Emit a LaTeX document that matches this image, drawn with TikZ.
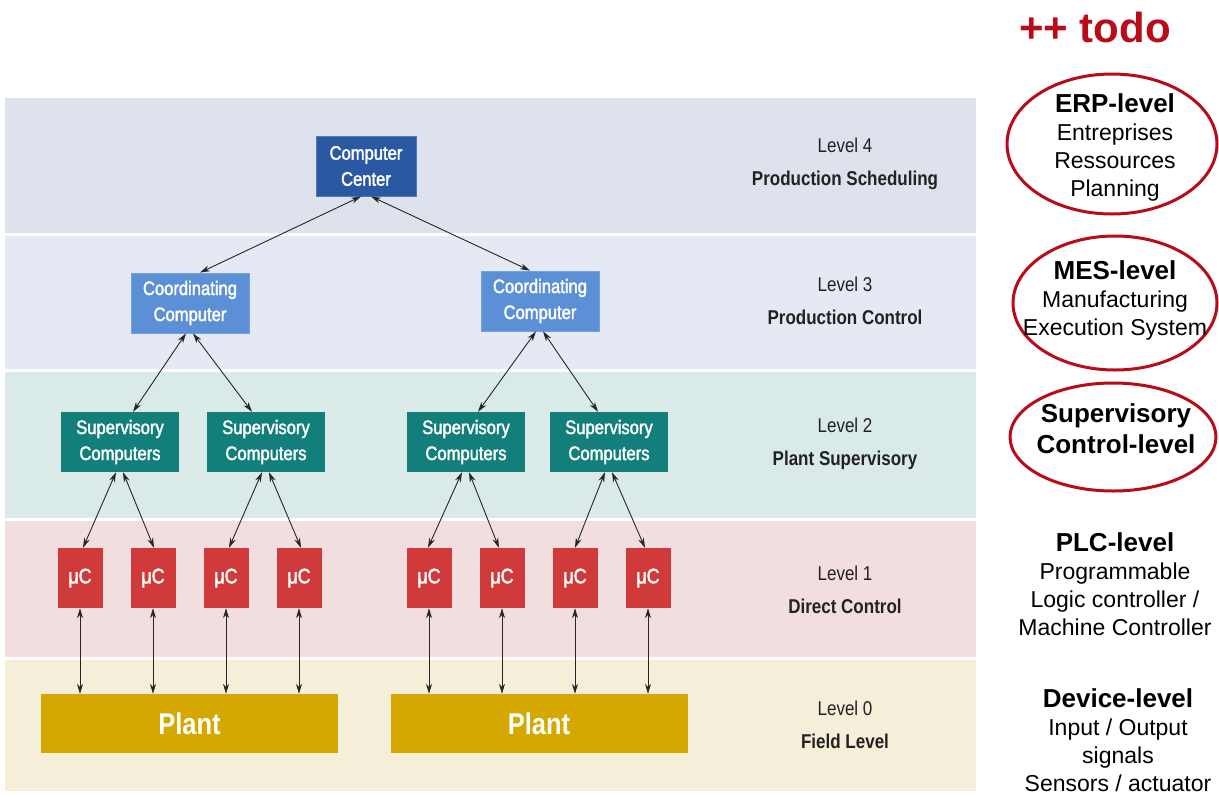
\documentclass[tikz,border=0pt]{standalone}
\usepackage{fontspec}
\setmainfont{Liberation Sans}
\newfontfamily\narrowfont[FakeStretch=0.85]{Liberation Sans}
\newfontfamily\boxfont[FakeStretch=0.85,FakeBold=2]{Liberation Sans}
\usetikzlibrary{arrows.meta}
\definecolor{bandA}{RGB}{221,226,236}
\definecolor{bandB}{RGB}{228,233,243}
\definecolor{bandC}{RGB}{217,234,232}
\definecolor{bandD}{RGB}{243,222,223}
\definecolor{bandE}{RGB}{245,239,218}
\definecolor{ccblue}{RGB}{42,88,163}
\definecolor{coblue}{RGB}{91,143,214}
\definecolor{supteal}{RGB}{19,127,122}
\definecolor{mcred}{RGB}{209,58,58}
\definecolor{plantgold}{RGB}{212,168,0}
\definecolor{todored}{RGB}{185,12,24}
\definecolor{labgray}{RGB}{34,34,34}
\tikzset{
  box/.style={inner sep=0pt, text=white, align=center,
    font=\boxfont\fontsize{19.5}{26}\selectfont},
  ccbox/.style={box, fill=ccblue, draw=ccblue!80!white, line width=0.8pt,
    minimum width=100pt, minimum height=60pt},
  cobox/.style={box, fill=coblue, draw=coblue!85!white, line width=0.8pt,
    minimum width=118pt, minimum height=60pt},
  supbox/.style={box, fill=supteal, minimum width=118pt, minimum height=60pt},
  mcbox/.style={box, fill=mcred, minimum width=45pt, minimum height=60pt,
    font=\boxfont\fontsize{21}{24}\selectfont},
  plantbox/.style={box, fill=plantgold, minimum width=297pt, minimum height=59pt,
    font=\narrowfont\bfseries\fontsize{30}{34}\selectfont},
  levlab/.style={align=center, text=labgray, inner sep=0pt,
    font=\narrowfont\fontsize{20}{33}\selectfont},
  sidetext/.style={align=center, text=black, inner sep=0pt,
    font=\fontsize{23}{28}\selectfont},
  link/.style={{Stealth[length=10pt,width=6pt]}-{Stealth[length=10pt,width=6pt]},
    line width=0.9pt, draw=black!85},
  ring/.style={draw=todored, line width=3pt}
}
\begin{document}
\begin{tikzpicture}[x=1pt,y=-1pt]
\useasboundingbox (0,0) rectangle (1219,796);
% bands
\fill[bandA] (5,98) rectangle (976,233);
\fill[bandB] (5,236) rectangle (976,369);
\fill[bandC] (5,372) rectangle (976,518);
\fill[bandD] (5,521) rectangle (976,657);
\fill[bandE] (5,660) rectangle (976,791);
% level 4
\node[ccbox] (cc) at (366,166) {Computer\\Center};
% level 3
\node[cobox] (coL) at (190,303) {Coordinating\\Computer};
\node[cobox] (coR) at (540,301) {Coordinating\\Computer};
% level 2
\node[supbox] (sup1) at (120,442) {Supervisory\\Computers};
\node[supbox] (sup2) at (266,442) {Supervisory\\Computers};
\node[supbox] (sup3) at (466,442) {Supervisory\\Computers};
\node[supbox] (sup4) at (609,442) {Supervisory\\Computers};
% level 1
\node[mcbox] (mc1) at (80,578) {μC};
\node[mcbox] (mc2) at (153,578) {μC};
\node[mcbox] (mc3) at (226,578) {μC};
\node[mcbox] (mc4) at (299,578) {μC};
\node[mcbox] (mc5) at (429,578) {μC};
\node[mcbox] (mc6) at (502,578) {μC};
\node[mcbox] (mc7) at (575,578) {μC};
\node[mcbox] (mc8) at (648,578) {μC};
% level 0
\node[plantbox] (plantL) at (189.5,723.5) {Plant};
\node[plantbox] (plantR) at (539,723.5) {Plant};
% connectors
\draw[link] ([xshift=-5pt]cc.south) -- ([xshift=10pt]coL.north);
\draw[link] ([xshift=5pt]cc.south) -- ([xshift=-10pt]coR.north);
\draw[link] ([xshift=-4pt]coL.south) -- ([xshift=13pt]sup1.north);
\draw[link] ([xshift=3pt]coL.south) -- ([xshift=-14pt]sup2.north);
\draw[link] ([xshift=-4pt]coR.south) -- ([xshift=12pt]sup3.north);
\draw[link] ([xshift=3pt]coR.south) -- ([xshift=-11pt]sup4.north);
\draw[link] ([xshift=-4pt]sup1.south) -- ([xshift=3pt]mc1.north);
\draw[link] ([xshift=3pt]sup1.south) -- ([xshift=1pt]mc2.north);
\draw[link] ([xshift=-4pt]sup2.south) -- ([xshift=3pt]mc3.north);
\draw[link] ([xshift=3pt]sup2.south) -- ([xshift=2pt]mc4.north);
\draw[link] ([xshift=-4pt]sup3.south) -- ([xshift=-1pt]mc5.north);
\draw[link] ([xshift=3pt]sup3.south) -- ([xshift=-3pt]mc6.north);
\draw[link] ([xshift=-4pt]sup4.south) -- ([xshift=0pt]mc7.north);
\draw[link] ([xshift=3pt]sup4.south) -- ([xshift=-3pt]mc8.north);
\foreach \m in {mc1,mc2,mc3,mc4} {
  \draw[link] (\m.south) -- (\m.south |- plantL.north);
}
\foreach \m in {mc5,mc6,mc7,mc8} {
  \draw[link] (\m.south) -- (\m.south |- plantR.north);
}
% level labels
\node[levlab] (lab4) at (845,164) {Level 4\\{\bfseries Production Scheduling}};
\node[levlab] (lab3) at (845,301) {Level 3\\{\bfseries Production Control}};
\node[levlab] (lab2) at (845,444) {Level 2\\{\bfseries Plant Supervisory}};
\node[levlab] (lab1) at (845,590) {Level 1\\{\bfseries Direct Control}};
\node[levlab] (lab0) at (845,725) {Level 0\\{\bfseries Field Level}};
% right side
\node[text=todored, inner sep=0pt, font=\bfseries\fontsize{42}{46}\selectfont] (todo) at (1095,27) {++ todo};
\draw[ring] (1112,144) ellipse [x radius=105pt, y radius=70pt];
\draw[ring] (1115,303) ellipse [x radius=102pt, y radius=67pt];
\draw[ring] (1113,437) ellipse [x radius=103pt, y radius=54pt];
\node[sidetext] (erp) at (1115,147) {{\bfseries\fontsize{26}{28}\selectfont ERP-level}\\Entreprises\\Ressources\\Planning};
\node[sidetext] (mes) at (1115,300) {{\bfseries\fontsize{26}{28}\selectfont MES-level}\\Manufacturing\\Execution System};
\node[sidetext, font=\bfseries\fontsize{26}{31}\selectfont] (svc) at (1116,429) {Supervisory\\Control-level};
\node[sidetext] (plc) at (1115,584) {{\bfseries\fontsize{26}{28}\selectfont PLC-level}\\Programmable\\Logic controller /\\Machine Controller};
\node[sidetext] (dev) at (1118,740) {{\bfseries\fontsize{26}{28}\selectfont Device-level}\\Input / Output\\signals\\Sensors / actuator};
\end{tikzpicture}
\end{document}
